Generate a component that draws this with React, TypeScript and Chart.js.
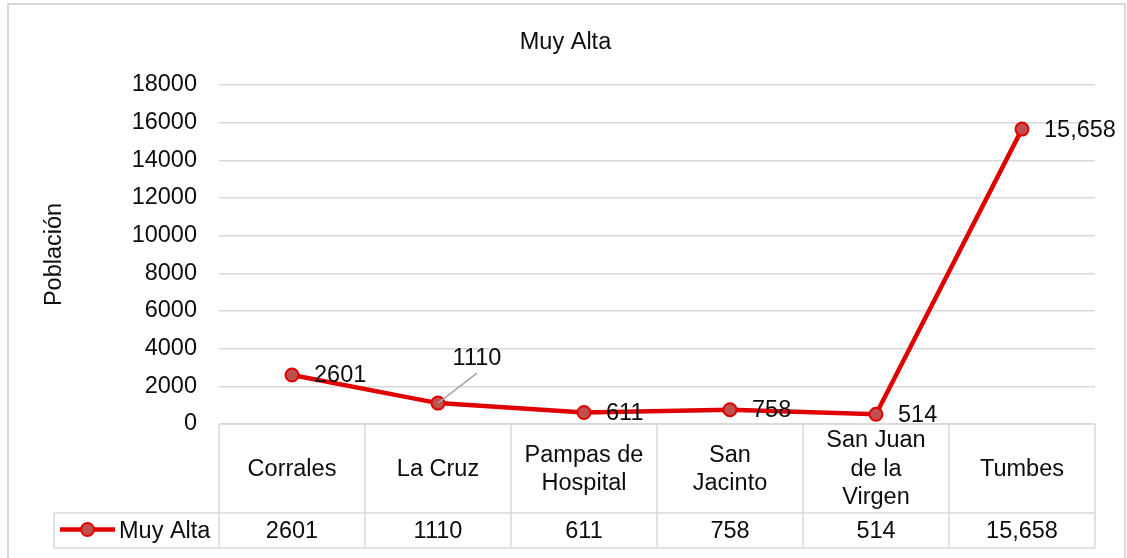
import React, { useEffect, useRef } from "react";
import { Chart, registerables } from "chart.js";

Chart.register(...registerables);

const categories: string[][] = [
  ["Corrales"],
  ["La Cruz"],
  ["Pampas de", "Hospital"],
  ["San", "Jacinto"],
  ["San Juan", "de la", "Virgen"],
  ["Tumbes"],
];
const seriesName = "Muy Alta";
const values: number[] = [2601, 1110, 611, 758, 514, 15658];
const valueLabels: string[] = ["2601", "1110", "611", "758", "514", "15,658"];
const yTicks: number[] = [0, 2000, 4000, 6000, 8000, 10000, 12000, 14000, 16000, 18000];

const FONT = '"Liberation Sans", Arial, sans-serif';
const FS = 23.5;
const TEXT = "#0d0d0d";
const GRID = "#d9d9d9";
const RED = "#e00000";
const MARKER = "#c0504d";

const labelsPlugin = {
  id: "valueLabels",
  afterDatasetsDraw(chart: any) {
    const ctx = chart.ctx;
    const meta = chart.getDatasetMeta(0);
    ctx.save();
    ctx.font = `${FS}px ${FONT}`;
    ctx.fillStyle = TEXT;
    ctx.textBaseline = "middle";
    meta.data.forEach((pt: any, i: number) => {
      const txt = valueLabels[i];
      if (i === 1) {
        // callout above-right with leader line
        ctx.strokeStyle = "#a6a6a6";
        ctx.lineWidth = 1.5;
        ctx.beginPath();
        ctx.moveTo(pt.x, pt.y);
        ctx.lineTo(pt.x + 39, pt.y - 30);
        ctx.stroke();
        ctx.textAlign = "center";
        ctx.fillText(txt, pt.x + 39, pt.y - 45);
      } else {
        ctx.textAlign = "left";
        const dy = i === 4 ? 1.5 : 1;
        ctx.fillText(txt, pt.x + 22, pt.y + dy);
      }
    });
    ctx.restore();
  },
};

const tablePlugin = {
  id: "dataTable",
  afterDraw(chart: any) {
    const ctx = chart.ctx;
    const area = chart.chartArea;
    const xs = chart.scales.x;
    const n = categories.length;
    const colW = (area.right - area.left) / n;
    const top = area.bottom;
    const mid = top + 89;
    const bot = mid + 35;
    const legLeft = 54;
    ctx.save();
    ctx.strokeStyle = GRID;
    ctx.lineWidth = 1.5;
    ctx.beginPath();
    ctx.moveTo(area.left, top);
    ctx.lineTo(area.right, top);
    ctx.moveTo(legLeft, mid);
    ctx.lineTo(area.right, mid);
    ctx.moveTo(legLeft, bot);
    ctx.lineTo(area.right, bot);
    for (let i = 0; i <= n; i++) {
      const x = area.left + i * colW;
      ctx.moveTo(x, top);
      ctx.lineTo(x, bot);
    }
    ctx.moveTo(legLeft, mid);
    ctx.lineTo(legLeft, bot);
    ctx.stroke();

    // outer chart border
    ctx.lineWidth = 2;
    ctx.strokeRect(8, 4, 1117, 600);

    ctx.font = `${FS}px ${FONT}`;
    ctx.fillStyle = TEXT;
    ctx.textAlign = "center";
    ctx.textBaseline = "middle";
    const lh = 28.5;
    const catMid = (top + mid) / 2 + 1;
    categories.forEach((lines, i) => {
      const cx = xs.getPixelForValue(i);
      const y0 = catMid - ((lines.length - 1) * lh) / 2;
      lines.forEach((ln, j) => ctx.fillText(ln, cx, y0 + j * lh));
      ctx.fillText(valueLabels[i], cx, (mid + bot) / 2 + 1.5);
    });

    // legend key in table
    const ly = (mid + bot) / 2 - 1;
    ctx.strokeStyle = RED;
    ctx.lineWidth = 4.5;
    ctx.beginPath();
    ctx.moveTo(60, ly);
    ctx.lineTo(115, ly);
    ctx.stroke();
    ctx.beginPath();
    ctx.arc(87.5, ly, 6.5, 0, Math.PI * 2);
    ctx.fillStyle = MARKER;
    ctx.fill();
    ctx.lineWidth = 2;
    ctx.strokeStyle = RED;
    ctx.stroke();
    ctx.fillStyle = TEXT;
    ctx.textAlign = "left";
    ctx.fillText(seriesName, 119, ly + 2);
    ctx.restore();
  },
};

export default function App() {
  const ref = useRef<HTMLCanvasElement | null>(null);
  useEffect(() => {
    if (!ref.current) return;
    const chart = new Chart(ref.current, {
      type: "line",
      data: {
        labels: categories.map((c) => c.join(" ")),
        datasets: [
          {
            label: seriesName,
            data: values,
            borderColor: RED,
            borderWidth: 4.5,
            backgroundColor: MARKER,
            pointBackgroundColor: MARKER,
            pointBorderColor: RED,
            pointBorderWidth: 2,
            pointRadius: 6.5,
            tension: 0,
            fill: false,
          },
        ],
      },
      options: {
        responsive: false,
        animation: false,
        layout: { padding: { left: 36, right: 32, top: 0, bottom: 134 } },
        plugins: {
          legend: { display: false },
          tooltip: { enabled: false },
          title: {
            display: true,
            text: "Muy Alta",
            color: TEXT,
            font: { family: FONT, size: FS, weight: "normal" },
            padding: { top: 28.5, bottom: 28.3 },
          },
        },
        scales: {
          x: {
            type: "category",
            display: false,
            offset: true,
          },
          y: {
            min: 0,
            max: 18000,
            afterBuildTicks: (scale: any) => {
              scale.ticks = yTicks.map((v) => ({ value: v }));
            },
            afterFit: (scale: any) => {
              scale.width = 219 - 36;
            },
            ticks: {
              padding: 22,
              color: TEXT,
              font: { family: FONT, size: FS },
              callback: (v: any) => String(v),
            },
            grid: { color: GRID, lineWidth: 1.5, drawTicks: false },
            border: { display: false },
            title: {
              display: true,
              text: "Población",
              color: TEXT,
              font: { family: FONT, size: FS },
              padding: 4,
            },
          },
        },
      },
      plugins: [labelsPlugin, tablePlugin],
    });
    return () => chart.destroy();
  }, []);
  return (
    <div style={{ position: "fixed", left: 0, top: 0, width: 1127, height: 558, background: "#fff" }}>
      <canvas ref={ref} width={1127} height={558} style={{ display: "block" }} />
    </div>
  );
}
